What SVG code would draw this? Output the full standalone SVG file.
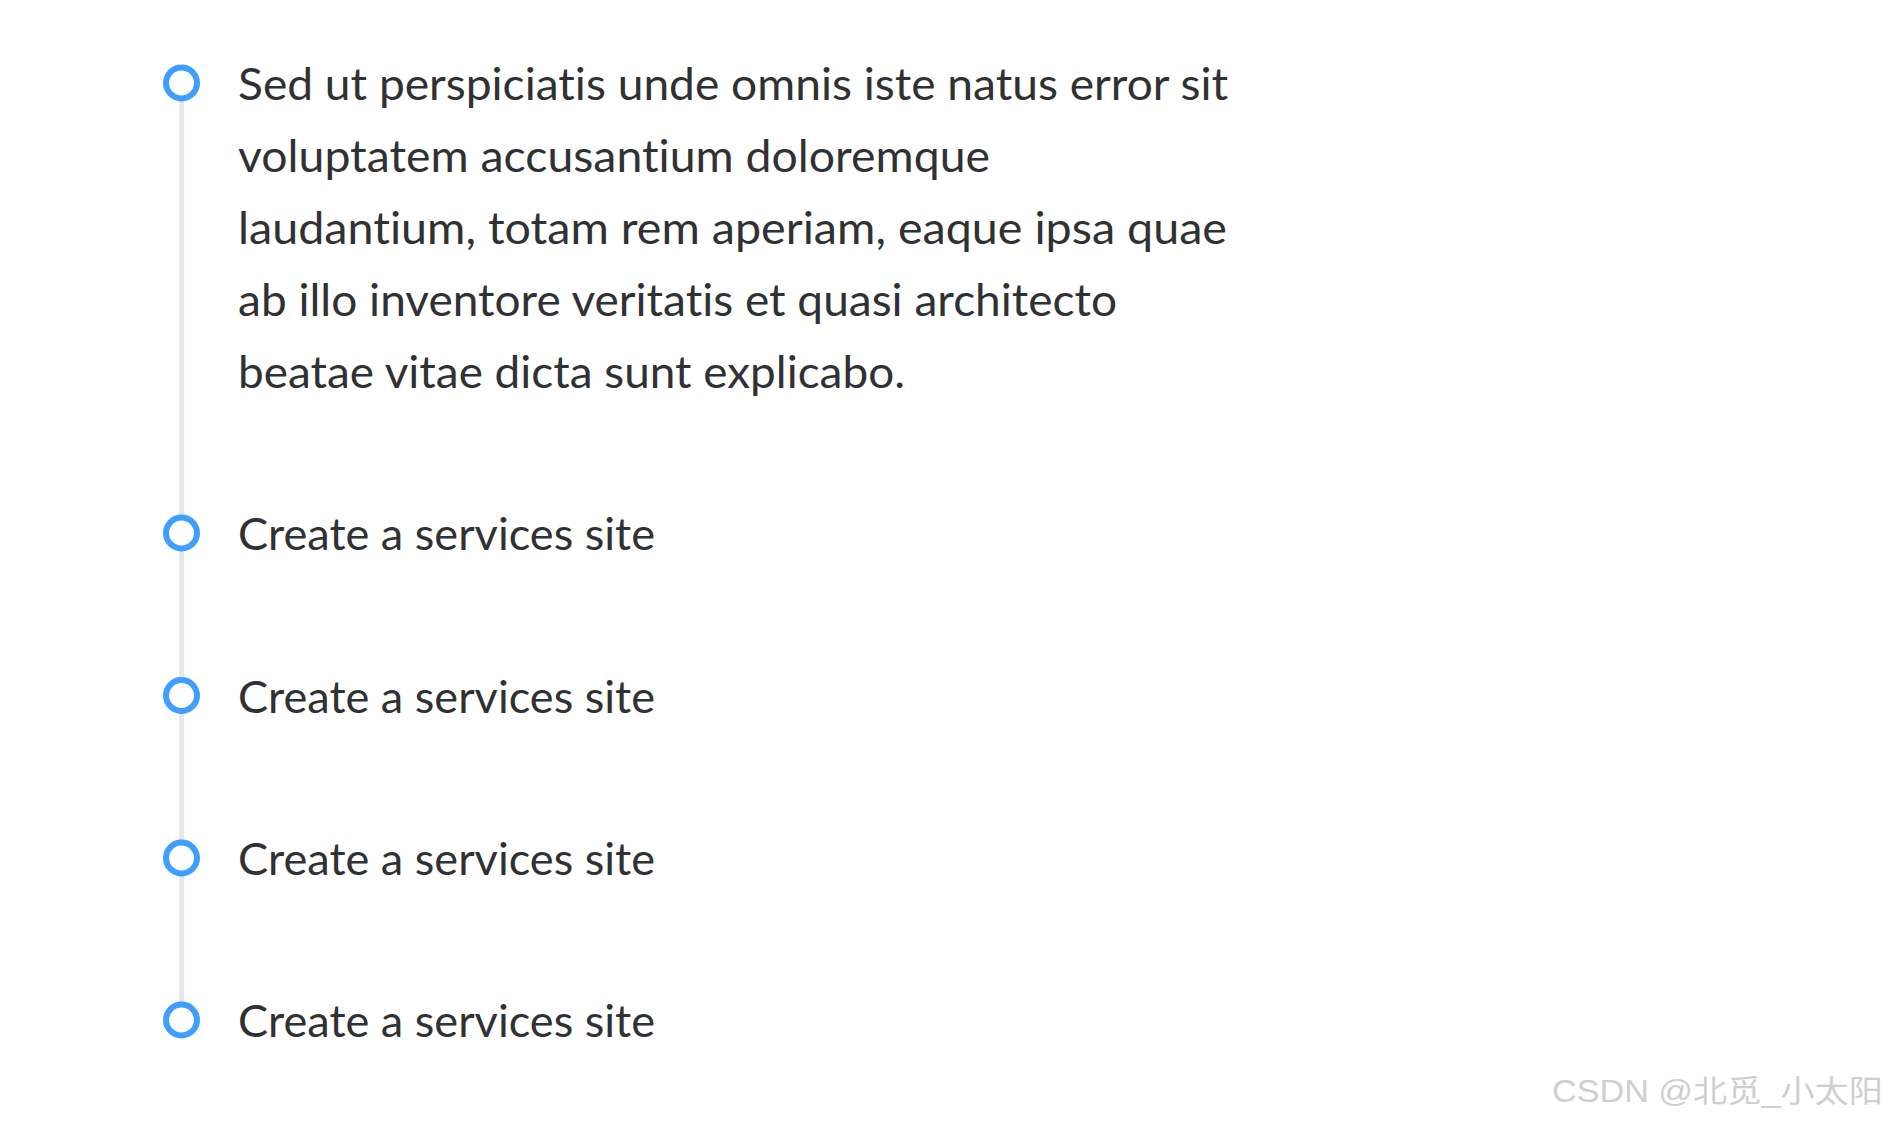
<svg xmlns="http://www.w3.org/2000/svg" width="1892" height="1124" viewBox="0 0 1892 1124">
<style>
.t{font-family:Lato,"Open Sans","Liberation Sans",sans-serif;font-size:44px;fill:#303133;font-variant-ligatures:none;font-feature-settings:"liga" 0}
.dot{fill:#fff;stroke:#409eff;stroke-width:6}
.wm{font-family:"Liberation Sans","Noto Sans CJK SC",sans-serif;font-size:31px;fill:#cfcfcf}
</style>
<rect width="1892" height="1124" fill="#fff"/>
<g id="connectors">
<line x1="181.5" y1="83" x2="181.5" y2="1020" stroke="#e4e7ed" stroke-width="5"/>
</g>
<g id="node1">
<circle class="dot" cx="181.5" cy="83" r="15.5"/>
<text class="t" x="238" y="100" textLength="990" lengthAdjust="spacingAndGlyphs">Sed ut perspiciatis unde omnis iste natus error sit</text>
<text class="t" x="238" y="172" textLength="752" lengthAdjust="spacingAndGlyphs">voluptatem accusantium doloremque</text>
<text class="t" x="238" y="244" textLength="989" lengthAdjust="spacingAndGlyphs">laudantium, totam rem aperiam, eaque ipsa quae</text>
<text class="t" x="238" y="316" textLength="879" lengthAdjust="spacingAndGlyphs">ab illo inventore veritatis et quasi architecto</text>
<text class="t" x="238" y="388" textLength="667" lengthAdjust="spacingAndGlyphs">beatae vitae dicta sunt explicabo.</text>
</g>
<g id="node2">
<circle class="dot" cx="181.5" cy="533" r="15.5"/>
<text class="t" x="238" y="550" textLength="417" lengthAdjust="spacingAndGlyphs">Create a services site</text>
</g>
<g id="node3">
<circle class="dot" cx="181.5" cy="695.5" r="15.5"/>
<text class="t" x="238" y="712.5" textLength="417" lengthAdjust="spacingAndGlyphs">Create a services site</text>
</g>
<g id="node4">
<circle class="dot" cx="181.5" cy="858" r="15.5"/>
<text class="t" x="238" y="875" textLength="417" lengthAdjust="spacingAndGlyphs">Create a services site</text>
</g>
<g id="node5">
<circle class="dot" cx="181.5" cy="1020" r="15.5"/>
<text class="t" x="238" y="1037" textLength="417" lengthAdjust="spacingAndGlyphs">Create a services site</text>
</g>
<text class="wm" x="1552" y="1102" textLength="331" lengthAdjust="spacingAndGlyphs">CSDN @北觅_小太阳</text>
</svg>
